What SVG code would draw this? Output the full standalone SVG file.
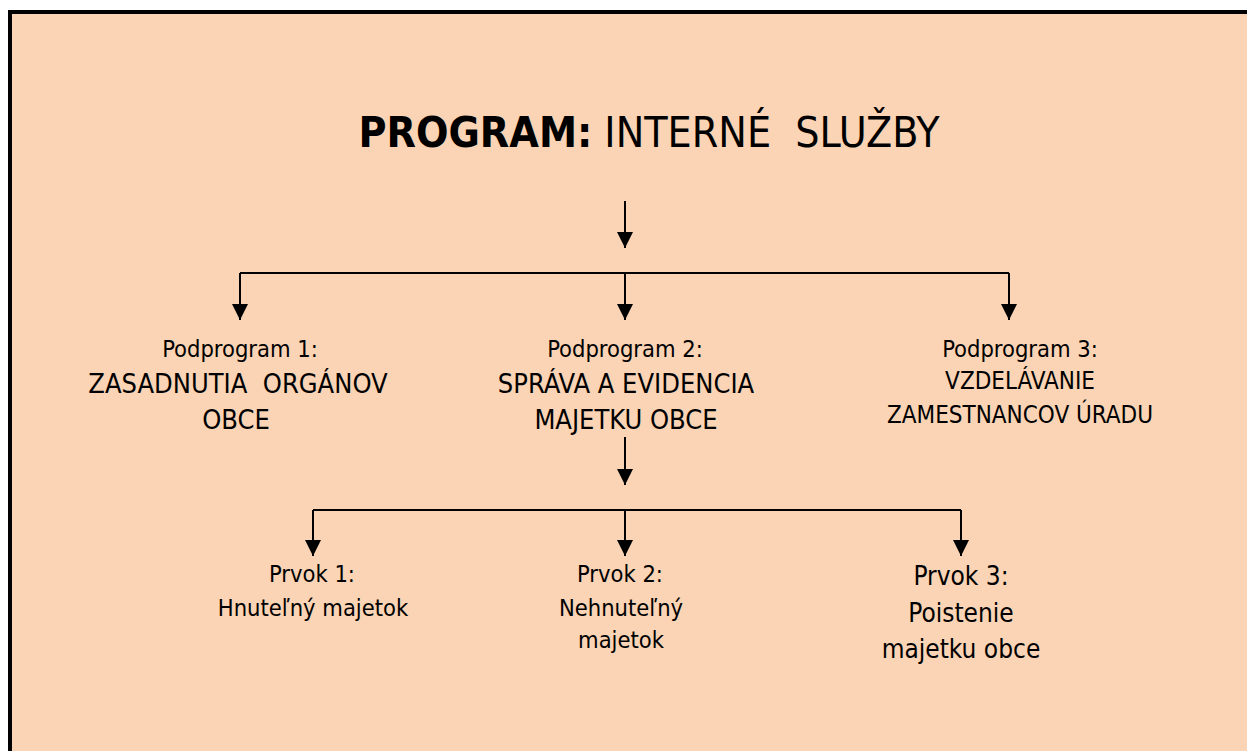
<svg xmlns="http://www.w3.org/2000/svg" width="1247" height="751" viewBox="0 0 1247 751">
<style>
text{font-family:"DejaVu Sans Condensed","DejaVu Sans",sans-serif;fill:#000;text-anchor:middle}
.c{stroke:#000;stroke-width:2;fill:none}
.p{font-size:23.5px}
.m{font-size:27px}
.s3{font-size:24px}
.r{font-size:23.5px}
.r3{font-size:26px}
</style>
<defs>
<marker id="ah" viewBox="0 0 16 16" refX="16" refY="8" markerWidth="16" markerHeight="16" markerUnits="userSpaceOnUse" orient="auto">
<path d="M0,0 L16,8 L0,16 z" fill="#000"/>
</marker>
</defs>
<rect x="0" y="0" width="1247" height="751" fill="#fff"/>
<rect x="10" y="12" width="1237" height="739" fill="#fad4b5"/>
<path d="M10,751 V12 H1247" stroke="#000" stroke-width="4" fill="none"/>
<g id="title">
<text x="649" y="147" style="font-size:42.5px" xml:space="preserve"><tspan font-weight="bold">PROGRAM:</tspan> INTERNÉ  SLUŽBY</text>
</g>
<g id="connectors">
<path class="c" d="M625,201 V248" marker-end="url(#ah)"/>
<path class="c" d="M240,273 H1009"/>
<path class="c" d="M240,273 V320" marker-end="url(#ah)"/>
<path class="c" d="M625,273 V320" marker-end="url(#ah)"/>
<path class="c" d="M1009,273 V320" marker-end="url(#ah)"/>
<path class="c" d="M625,437 V485" marker-end="url(#ah)"/>
<path class="c" d="M313,510 H961"/>
<path class="c" d="M313,510 V556" marker-end="url(#ah)"/>
<path class="c" d="M625,510 V556" marker-end="url(#ah)"/>
<path class="c" d="M961,510 V556" marker-end="url(#ah)"/>
</g>
<g id="podprogram1">
<text class="p" x="240" y="357">Podprogram 1:</text>
<text class="m" x="238" y="393" xml:space="preserve">ZASADNUTIA  ORGÁNOV</text>
<text class="m" x="236" y="429">OBCE</text>
</g>
<g id="podprogram2">
<text class="p" x="625" y="357">Podprogram 2:</text>
<text class="m" x="626" y="393">SPRÁVA A EVIDENCIA</text>
<text class="m" x="626" y="429">MAJETKU OBCE</text>
</g>
<g id="podprogram3">
<text class="p" x="1020" y="357">Podprogram 3:</text>
<text class="s3" x="1020" y="389">VZDELÁVANIE</text>
<text class="s3" x="1020" y="423">ZAMESTNANCOV ÚRADU</text>
</g>
<g id="prvok1">
<text class="r" x="312" y="582">Prvok 1:</text>
<text class="r" x="313" y="616">Hnuteľný majetok</text>
</g>
<g id="prvok2">
<text class="r" x="620" y="582">Prvok 2:</text>
<text class="r" x="621" y="616">Nehnuteľný</text>
<text class="r" x="621" y="648">majetok</text>
</g>
<g id="prvok3">
<text class="r3" x="961" y="585">Prvok 3:</text>
<text class="r3" x="961" y="622">Poistenie</text>
<text class="r3" x="961" y="658">majetku obce</text>
</g>
</svg>
